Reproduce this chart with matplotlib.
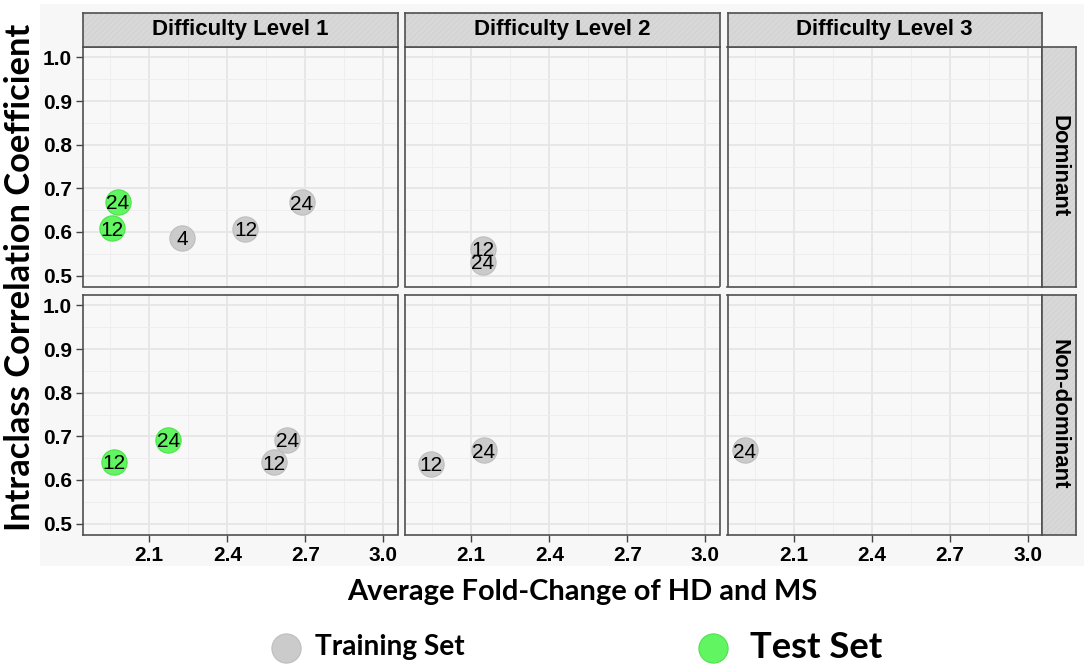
import matplotlib
matplotlib.use('Agg')
import matplotlib.pyplot as plt
from matplotlib import font_manager as fm
from matplotlib.patches import Rectangle
from matplotlib.lines import Line2D

# data
levels = ['Difficulty Level 1', 'Difficulty Level 2', 'Difficulty Level 3']
hands = ['Dominant', 'Non-dominant']

level = [1, 1, 1, 1, 1, 2, 2,
         1, 1, 1, 1, 2, 2, 3]
hand = ['Dominant'] * 7 + ['Non-dominant'] * 7
fold_change = [1.978, 1.958, 2.227, 2.470, 2.686, 2.145, 2.145,
               1.964, 2.173, 2.631, 2.578, 1.946, 2.148, 1.911]
icc = [0.669, 0.608, 0.587, 0.607, 0.668, 0.562, 0.531,
       0.642, 0.692, 0.692, 0.640, 0.636, 0.668, 0.668]
point_label = [24, 12, 4, 12, 24, 12, 24,
               12, 24, 24, 12, 12, 24, 24]
dataset = ['Test', 'Test', 'Training', 'Training', 'Training', 'Training', 'Training',
           'Test', 'Test', 'Training', 'Training', 'Training', 'Training', 'Training']

x_ticks = [2.1, 2.4, 2.7, 3.0]
x_minor = [1.95, 2.25, 2.55, 2.85]
y_ticks = [0.5, 0.6, 0.7, 0.8, 0.9, 1.0]
y_minor = [0.55, 0.65, 0.75, 0.85, 0.95]

colors = {'Training': '#CBCBCB', 'Test': '#62F562'}
edges = {'Training': '#BDBDBD', 'Test': '#4FE04F'}

installed = {f.name for f in fm.fontManager.ttflist}
cond_font = next(n for n in ['Liberation Sans Narrow', 'Lato', 'DejaVu Sans'] if n in installed)
arial = 'Liberation Sans' if 'Liberation Sans' in installed else 'DejaVu Sans'
plt.rcParams['hatch.linewidth'] = 0.5

W, H = 1084, 669
fig = plt.figure(figsize=(W / 100, H / 100), dpi=100)
fig.patch.set_facecolor('white')


def box(x0, y0, x1, y1):
    return [x0 / W, 1 - y1 / H, (x1 - x0) / W, (y1 - y0) / H]


# light grey plot background
fig.patches.append(Rectangle((40 / W, 1 - 566 / H), 1 - 40 / W, 562 / H,
                             transform=fig.transFigure, facecolor='#F7F7F7',
                             edgecolor='none', zorder=-10))

col_x = [83, 405, 727.5]
pw = 314.5
row_y = [46.5, 294.5]
ph = 240
border = '#505050'


def strip(rect, text, rotation=0):
    s = fig.add_axes(rect)
    s.set_xticks([])
    s.set_yticks([])
    s.add_patch(Rectangle((0, 0), 1, 1, transform=s.transAxes, facecolor='#D8D8D8',
                          edgecolor='#CFCFCF', hatch='//////', lw=0))
    for sp in s.spines.values():
        sp.set_color(border)
        sp.set_linewidth(1.2)
    s.text(0.5, 0.5, text, transform=s.transAxes, ha='center', va='center',
           rotation=rotation, fontsize=16, fontweight='bold', family=arial)


for r, hname in enumerate(hands):
    for c, lname in enumerate(levels):
        ax = fig.add_axes(box(col_x[c], row_y[r], col_x[c] + pw, row_y[r] + ph))
        ax.set_facecolor('#F8F8F8')
        ax.set_xlim(1.845, 3.055)
        ax.set_ylim(0.475, 1.025)
        ax.set_xticks(x_ticks)
        ax.set_xticks(x_minor, minor=True)
        ax.set_yticks(y_ticks)
        ax.set_yticks(y_minor, minor=True)
        ax.grid(which='major', color='#E6E6E6', lw=1.3)
        ax.grid(which='minor', color='#EEEEEE', lw=0.7)
        ax.set_axisbelow(True)
        ax.tick_params(which='major', length=5, width=1, color='#444444', pad=3,
                       labelsize=15)
        ax.tick_params(which='minor', length=0)
        if c > 0:
            ax.tick_params(left=False, labelleft=False)
        if r == 0:
            ax.tick_params(bottom=False, labelbottom=False)
        ax.set_xticklabels([f'{v:.1f}' for v in x_ticks], fontweight='bold',
                           fontsize=15, family=arial)
        ax.set_yticklabels([f'{v:.1f}' for v in y_ticks], fontweight='bold',
                           fontsize=15, family=arial)
        for sp in ax.spines.values():
            sp.set_color(border)
            sp.set_linewidth(1.2)

        idx = [i for i in range(len(icc)) if hand[i] == hname and level[i] == c + 1]
        for i in idx:
            ax.scatter(fold_change[i], icc[i], s=330, color=colors[dataset[i]],
                       edgecolors=edges[dataset[i]], linewidths=0.8, zorder=3)
        for i in idx:
            ax.text(fold_change[i], icc[i] - 0.004, str(point_label[i]), ha='center',
                    va='center', fontsize=15, family=arial, zorder=4)

        if r == 0:
            strip(box(col_x[c], 13, col_x[c] + pw, row_y[0]), lname)
    strip(box(1042, row_y[r], 1076, row_y[r] + ph), hname, rotation=-90)

renderer = fig.canvas.get_renderer()


def fit(t, px, vertical=False):
    bb = t.get_window_extent(renderer)
    size = bb.height if vertical else bb.width
    t.set_fontsize(t.get_fontsize() * px / size)


ylab = fig.text(20 / W, 1 - 277 / H, 'Intraclass Correlation Coefficient', rotation=90,
                ha='center', va='center', fontsize=20, fontweight='bold', family=cond_font)
fit(ylab, 508, vertical=True)

xlab = fig.text(582 / W, 1 - 592 / H, 'Average Fold-Change of HD and MS', ha='center',
                va='center', fontsize=20, fontweight='bold', family=cond_font)
fit(xlab, 470)

# legend
for (name, mx, tx, tw) in [('Training', 286, 315, 150), ('Test', 713, 750, 133)]:
    fig.lines.append(Line2D([mx / W], [1 - 648 / H], transform=fig.transFigure, marker='o',
                            ms=21, color=colors[name], markeredgecolor=edges[name],
                            markeredgewidth=0.8, linestyle='none'))
    t = fig.text(tx / W, 1 - 647 / H, name + ' Set', ha='left', va='center', fontsize=24,
                 fontweight='bold', family=cond_font)
    fit(t, tw)

fig.savefig('out.png', dpi=100)
